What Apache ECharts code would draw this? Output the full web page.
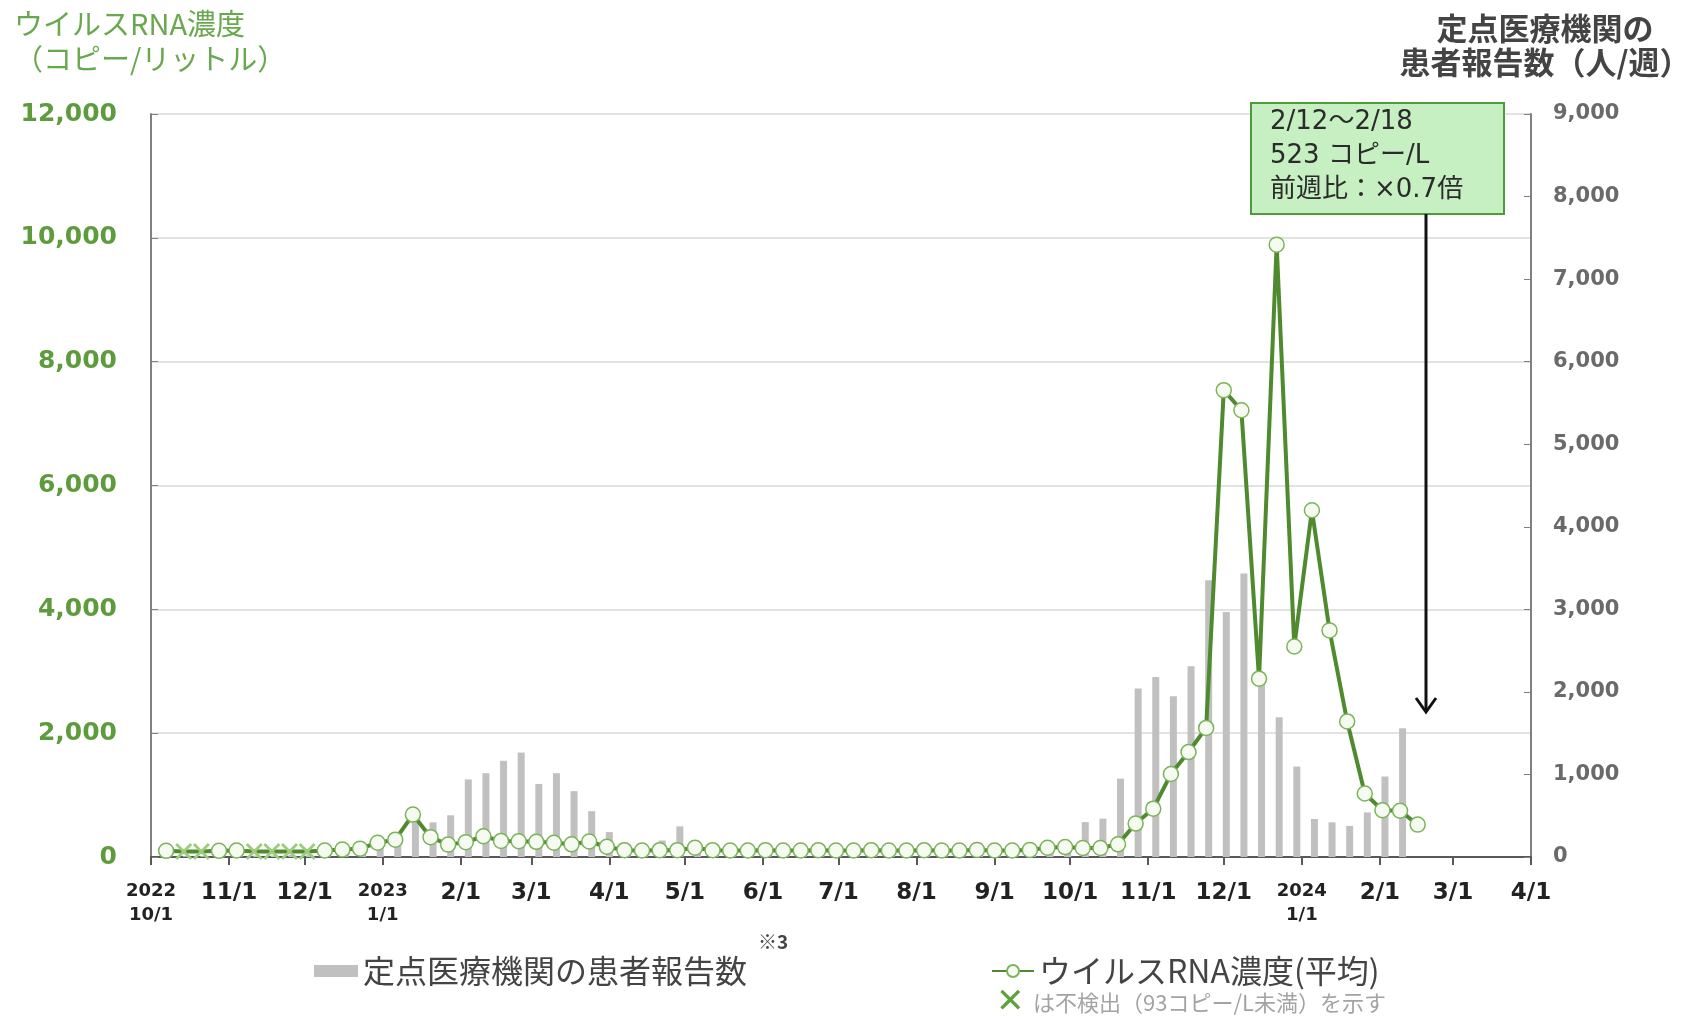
<!DOCTYPE html>
<html>
<head>
<meta charset="utf-8">
<script src="https://cdn.jsdelivr.net/npm/echarts@6/dist/echarts.min.js"></script>
<style>
html, body { margin: 0; padding: 0; background: #fff; }
#chart { width: 1696px; height: 1017px; }
</style>
</head>
<body>
<div id="chart"></div>
<script>
// 週の開始日（月曜）
var weekStarts = [
    '2022-10-03', '2022-10-10', '2022-10-17', '2022-10-24', '2022-10-31', '2022-11-07', '2022-11-14',
    '2022-11-21', '2022-11-28', '2022-12-05', '2022-12-12', '2022-12-19', '2022-12-26',
    '2023-01-02', '2023-01-09', '2023-01-16', '2023-01-23', '2023-01-30', '2023-02-06', '2023-02-13',
    '2023-02-20', '2023-02-27', '2023-03-06', '2023-03-13', '2023-03-20', '2023-03-27', '2023-04-03',
    '2023-04-10', '2023-04-17', '2023-04-24', '2023-05-01', '2023-05-08', '2023-05-15', '2023-05-22',
    '2023-05-29', '2023-06-05', '2023-06-12', '2023-06-19', '2023-06-26', '2023-07-03', '2023-07-10',
    '2023-07-17', '2023-07-24', '2023-07-31', '2023-08-07', '2023-08-14', '2023-08-21', '2023-08-28',
    '2023-09-04', '2023-09-11', '2023-09-18', '2023-09-25', '2023-10-02', '2023-10-09', '2023-10-16',
    '2023-10-23', '2023-10-30', '2023-11-06', '2023-11-13', '2023-11-20', '2023-11-27', '2023-12-04',
    '2023-12-11', '2023-12-18', '2023-12-25', '2024-01-01', '2024-01-08', '2024-01-15', '2024-01-22',
    '2024-01-29', '2024-02-05', '2024-02-12'
];

// ウイルスRNA濃度（平均, コピー/L）
var rnaValues = [
    100, 90, 90, 100, 105, 90, 90, 90, 90, 105, 120, 135, 230,
    280, 685, 320, 200, 240, 335, 260, 255, 245, 230, 205, 250, 165, 110,
    105, 110, 110, 150, 110, 105, 105, 110, 105, 105, 110, 105, 105, 110,
    105, 105, 110, 105, 105, 115, 105, 105, 115, 150, 160, 145, 145, 205,
    540, 780, 1340, 1695, 2085, 7540, 7215, 2880, 9890, 3400, 5600, 3660, 2190,
    1025, 755, 747, 523
];

// 不検出（93コピー/L未満）の週
var notDetectedWeeks = [1, 2, 5, 6, 7, 8];

// 定点医療機関の患者報告数（人/週）
var patientCounts = [
    8, 10, 10, 12, 15, 18, 20, 25, 30, 45, 60, 90, 140,
    200, 430, 420, 505, 940, 1015, 1165, 1265, 885, 1015, 798, 555, 302, 130,
    95, 200, 371, 110, 80, 60, 50, 45, 40, 40, 35, 35, 30, 30,
    30, 30, 35, 40, 45, 50, 55, 65, 80, 110, 140, 423, 464, 949,
    2040, 2181, 1947, 2310, 3353, 2968, 3434, 2100, 1694, 1095, 460, 420, 377,
    540, 975, 1560
];

// 横軸の目盛り（月初）
var monthTicks = [
    '2022-10-01', '2022-11-01', '2022-12-01', '2023-01-01', '2023-02-01', '2023-03-01', '2023-04-01',
    '2023-05-01', '2023-06-01', '2023-07-01', '2023-08-01', '2023-09-01', '2023-10-01', '2023-11-01',
    '2023-12-01', '2024-01-01', '2024-02-01', '2024-03-01', '2024-04-01'
];

var DAY = 86400000;
var JP = '"Noto Sans CJK JP", sans-serif';
var NUM = '"DejaVu Sans", sans-serif';
var MIX = '"DejaVu Sans", "Noto Sans CJK JP", sans-serif';
var crossPath = 'path://M0,1.2L1.2,0L5,3.8L8.8,0L10,1.2L6.2,5L10,8.8L8.8,10L5,6.2L1.2,10L0,8.8L3.8,5Z';

function toTime(s) {
    var p = s.split('-');
    return new Date(+p[0], +p[1] - 1, +p[2]).getTime();
}

var tickTimes = monthTicks.map(toTime);

var rnaData = weekStarts.map(function (d, i) {
    var item = { value: [toTime(d) + 4 * DAY, rnaValues[i]] };
    if (notDetectedWeeks.indexOf(i) >= 0) {
        item.symbol = crossPath;
        item.symbolSize = 17;
        item.itemStyle = { color: '#9ccc7c', borderWidth: 0 };
    }
    return item;
});

var barData = patientCounts.map(function (v, i) {
    return [toTime(weekStarts[i]) + 5 * DAY, v];
});

var myChart = echarts.init(document.getElementById('chart'));

var option = {
    animation: false,
    backgroundColor: '#fff',
    grid: { left: 151, right: 165, top: 114, bottom: 160 },
    legend: [
        {
            data: ['定点医療機関の患者報告数'],
            left: 309, top: 950,
            icon: 'rect', itemWidth: 44, itemHeight: 12,
            selectedMode: false,
            textStyle: { fontFamily: JP, fontSize: 32, color: '#444' }
        },
        {
            data: ['ウイルスRNA濃度(平均)'],
            left: 986, top: 950,
            itemWidth: 42, itemHeight: 15,
            selectedMode: false,
            textStyle: { fontFamily: JP, fontSize: 32, color: '#444' }
        }
    ],
    xAxis: {
        type: 'value',
        min: tickTimes[0],
        max: tickTimes[tickTimes.length - 1],
        axisLine: { lineStyle: { color: '#595959', width: 2 } },
        axisTick: {
            show: true, customValues: tickTimes, length: 8,
            lineStyle: { color: '#595959', width: 2 }
        },
        axisLabel: {
            customValues: tickTimes,
            margin: 22,
            color: '#222',
            fontFamily: NUM,
            fontWeight: 'bold',
            fontSize: 23,
            formatter: function (value) {
                var d = new Date(value);
                var md = (d.getMonth() + 1) + '/' + d.getDate();
                if (d.getMonth() === 0 || value === tickTimes[0]) {
                    return '{y|' + d.getFullYear() + '}\n{d|' + md + '}';
                }
                return '{m|' + md + '}';
            },
            rich: {
                y: { fontFamily: NUM, fontWeight: 'bold', fontSize: 18, lineHeight: 24, color: '#222' },
                d: { fontFamily: NUM, fontWeight: 'bold', fontSize: 18, lineHeight: 24, color: '#222' },
                m: { fontFamily: NUM, fontWeight: 'bold', fontSize: 23, lineHeight: 28, color: '#222' }
            }
        },
        splitLine: { show: false }
    },
    yAxis: [
        {
            type: 'value',
            position: 'left',
            min: 0, max: 12000, interval: 2000,
            axisLine: { show: true, lineStyle: { color: '#808080', width: 2 } },
            axisTick: { show: true, inside: true, length: 7, lineStyle: { color: '#808080' } },
            axisLabel: {
                margin: 34,
                color: '#5e9b3c',
                fontFamily: NUM,
                fontWeight: 'bold',
                fontSize: 25,
                formatter: function (v) { return v.toLocaleString('en-US'); }
            },
            splitLine: { lineStyle: { color: '#d9d9d9', width: 1.5 } }
        },
        {
            type: 'value',
            position: 'right',
            min: 0, max: 9000, interval: 1000,
            axisLine: { show: true, lineStyle: { color: '#808080', width: 2 } },
            axisTick: { show: true, inside: true, length: 7, lineStyle: { color: '#808080' } },
            axisLabel: {
                margin: 22,
                color: '#6a6a6a',
                fontFamily: NUM,
                fontWeight: 'bold',
                fontSize: 21,
                formatter: function (v) { return v.toLocaleString('en-US'); }
            },
            splitLine: { show: false }
        }
    ],
    series: [
        {
            name: '定点医療機関の患者報告数',
            type: 'bar',
            yAxisIndex: 1,
            barWidth: 7,
            itemStyle: { color: '#c0c0c0' },
            data: barData,
            z: 2
        },
        {
            name: 'ウイルスRNA濃度(平均)',
            type: 'line',
            yAxisIndex: 0,
            symbol: 'circle',
            symbolSize: 15,
            showAllSymbol: true,
            lineStyle: { color: '#4f8a2f', width: 4 },
            itemStyle: { color: '#f6fbf2', borderColor: '#7cb35a', borderWidth: 1.5 },
            data: rnaData,
            z: 3
        }
    ],
    graphic: [
        {
            type: 'text', x: 14, y: 6,
            style: {
                text: 'ウイルスRNA濃度\n（コピー/リットル）',
                font: '29px ' + JP, fill: '#6aa84f', lineHeight: 35
            }
        },
        {
            type: 'text', x: 1545, y: 11,
            style: {
                text: '定点医療機関の\n患者報告数（人/週）',
                font: 'bold 31px ' + JP, fill: '#444', lineHeight: 34,
                textAlign: 'center'
            }
        },
        {
            type: 'rect',
            shape: { x: 1251, y: 103, width: 253, height: 111 },
            style: { fill: '#c6efc2', stroke: '#4f9a3a', lineWidth: 2 },
            z: 10
        },
        {
            type: 'text', x: 1270, y: 105,
            style: {
                text: '2/12～2/18\n523 コピー/L\n前週比：×0.7倍',
                font: '26px ' + MIX, fill: '#2b2b2b', lineHeight: 34
            },
            z: 11
        },
        {
            type: 'line',
            shape: { x1: 1426, y1: 214, x2: 1426, y2: 711 },
            style: { stroke: '#111', lineWidth: 3 },
            z: 10
        },
        {
            type: 'polyline',
            shape: { points: [[1416, 698], [1426, 712], [1436, 698]] },
            style: { stroke: '#111', lineWidth: 3, fill: null },
            z: 10
        },
        {
            type: 'text', x: 758, y: 932,
            style: { text: '※3', font: 'bold 19px ' + JP, fill: '#444' }
        },
        {
            type: 'text', x: 996, y: 986,
            style: { text: '✕', font: '34px "DejaVu Sans"', fill: '#5fa23c' }
        },
        {
            type: 'text', x: 1033, y: 992,
            style: { text: 'は不検出（93コピー/L未満）を示す', font: '22px ' + JP, fill: '#a3a3a3' }
        }
    ]
};

myChart.setOption(option);
</script>
</body>
</html>
